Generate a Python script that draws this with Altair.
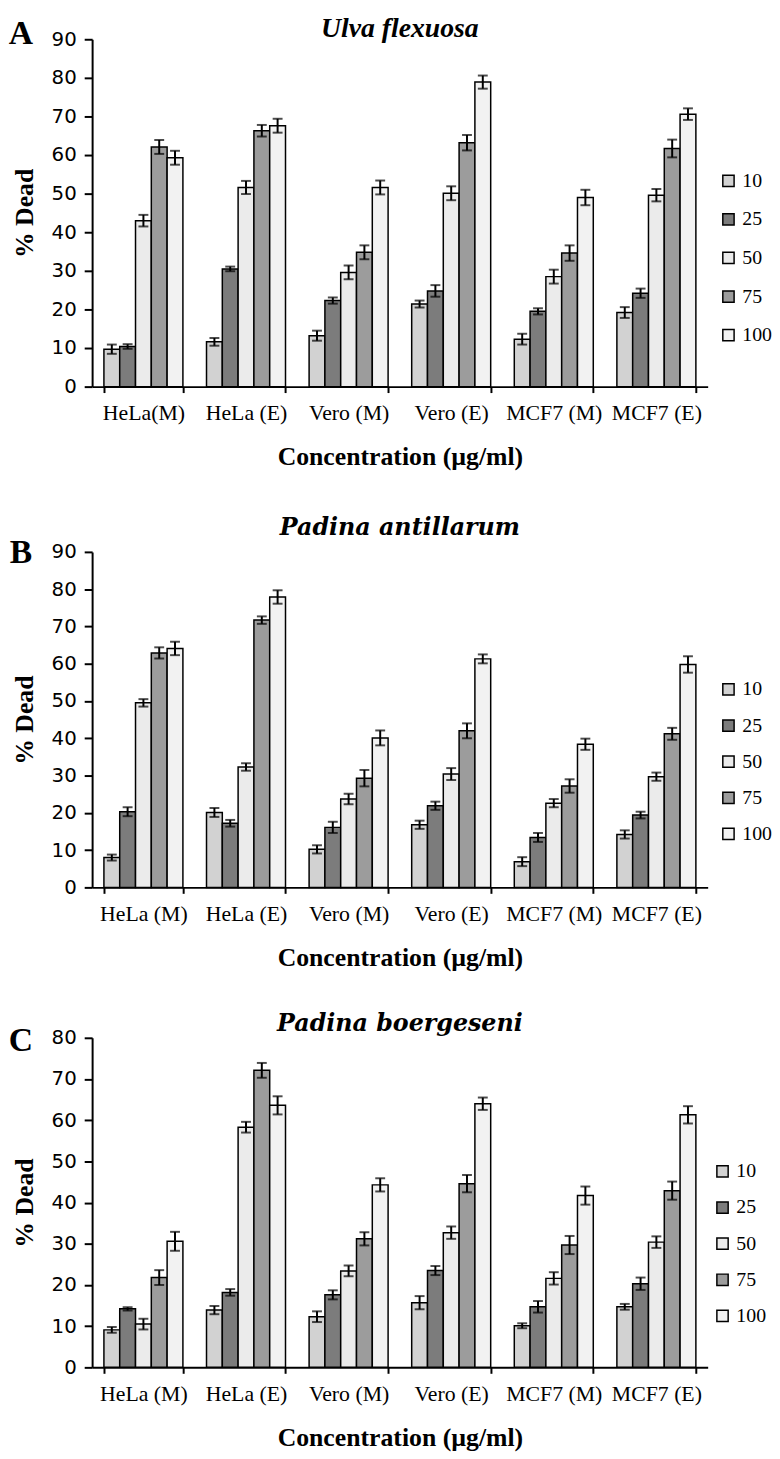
import altair as alt
import pandas as pd

concs = ["10", "25", "50", "75", "100"]

# Panel A: Ulva flexuosa
cats_a = ["HeLa(M)", "HeLa (E)", "Vero (M)", "Vero (E)", "MCF7 (M)", "MCF7 (E)"]
vals_a = {
    "10":  [9.7, 11.6, 13.2, 21.4, 12.3, 19.2],
    "25":  [10.4, 30.5, 22.3, 24.8, 19.5, 24.2],
    "50":  [43.0, 51.6, 29.6, 50.1, 28.5, 49.6],
    "75":  [62.1, 66.3, 34.8, 63.2, 34.6, 61.7],
    "100": [59.3, 67.6, 51.6, 78.9, 49.0, 70.6],
}
errs_a = {
    "10":  [1.2, 1.0, 1.3, 0.9, 1.4, 1.4],
    "25":  [0.6, 0.6, 0.8, 1.5, 0.8, 1.2],
    "50":  [1.5, 1.7, 1.8, 1.8, 1.8, 1.6],
    "75":  [1.8, 1.5, 1.8, 2.0, 2.0, 2.3],
    "100": [1.8, 1.8, 1.8, 1.7, 2.0, 1.5],
}

# Panel B: Padina antillarum
cats_b = ["HeLa (M)", "HeLa (E)", "Vero (M)", "Vero (E)", "MCF7 (M)", "MCF7 (E)"]
vals_b = {
    "10":  [8.0, 20.1, 10.2, 16.8, 6.9, 14.2],
    "25":  [20.3, 17.2, 16.1, 21.9, 13.4, 19.4],
    "50":  [49.5, 32.3, 23.7, 30.4, 22.6, 29.7],
    "75":  [62.9, 71.7, 29.3, 42.0, 27.2, 41.2],
    "100": [64.1, 77.9, 40.1, 61.3, 38.4, 59.8],
}
errs_b = {
    "10":  [0.8, 1.2, 1.1, 1.1, 1.2, 1.1],
    "25":  [1.2, 0.9, 1.5, 1.1, 1.2, 0.9],
    "50":  [1.0, 1.0, 1.4, 1.6, 1.1, 1.1],
    "75":  [1.5, 1.0, 2.2, 2.0, 1.8, 1.6],
    "100": [1.8, 1.8, 2.0, 1.2, 1.5, 2.2],
}

# Panel C: Padina boergeseni
cats_c = ["HeLa (M)", "HeLa (E)", "Vero (M)", "Vero (E)", "MCF7 (M)", "MCF7 (E)"]
vals_c = {
    "10":  [9.1, 13.9, 12.3, 15.7, 10.1, 14.7],
    "25":  [14.2, 18.2, 17.6, 23.5, 14.7, 20.3],
    "50":  [10.5, 58.3, 23.4, 32.7, 21.6, 30.4],
    "75":  [21.8, 72.1, 31.2, 44.6, 29.7, 42.9],
    "100": [30.6, 63.6, 44.3, 64.0, 41.7, 61.3],
}
errs_c = {
    "10":  [0.7, 1.0, 1.3, 1.6, 0.6, 0.7],
    "25":  [0.4, 0.8, 1.1, 1.1, 1.4, 1.5],
    "50":  [1.3, 1.3, 1.3, 1.5, 1.5, 1.4],
    "75":  [1.8, 1.8, 1.6, 2.1, 2.2, 2.2],
    "100": [2.3, 2.2, 1.6, 1.5, 2.2, 2.1],
}

fills = ["#d2d2d2", "#7c7c7c", "#ebebeb", "#9c9c9c", "#f2f2f2"]

SERIF = "Liberation Serif"


def make_df(cats, vals, errs):
    rows = []
    for c in concs:
        for i, cat in enumerate(cats):
            v = vals[c][i]
            e = errs[c][i]
            rows.append({"cat": cat, "conc": c, "val": v, "lo": v - e, "hi": v + e})
    return pd.DataFrame(rows)


def panel(cats, vals, errs, title, title_font, title_size, title_y,
          letter, letter_y, height, ymax, legend_y, row_pad, legend_x):
    df = make_df(cats, vals, errs)
    x = alt.X("cat:N", sort=cats,
              scale=alt.Scale(paddingInner=0.23, paddingOuter=0.115),
              axis=alt.Axis(title="Concentration (µg/ml)", labelAngle=0,
                            tickBand="extent", tickSize=6, labelPadding=10,
                            labelFont=SERIF, labelFontSize=22,
                            titleFont=SERIF, titleFontSize=26, titleFontWeight="bold",
                            titlePadding=21, domainWidth=2, tickWidth=2))
    xo = alt.XOffset("conc:N", sort=concs,
                     scale=alt.Scale(paddingInner=0, paddingOuter=0))
    y_axis = alt.Axis(title="% Dead", values=list(range(0, ymax + 1, 10)),
                      labelOverlap=False, tickSize=8, labelPadding=8,
                      labelFont="DejaVu Sans", labelFontSize=20,
                      titleFont=SERIF, titleFontSize=26,
                      titleFontWeight="bold", titlePadding=14, domainWidth=2,
                      tickWidth=2, grid=False)
    yscale = alt.Scale(domain=[0, ymax], nice=False)
    y = alt.Y("val:Q", scale=yscale, axis=y_axis)

    base = alt.Chart(df)
    bars = base.mark_bar(stroke="black", strokeWidth=1.5).encode(
        x=x, xOffset=xo, y=y,
        fill=alt.Fill("conc:N", sort=concs,
                      scale=alt.Scale(domain=concs, range=fills),
                      legend=alt.Legend(title=None, orient="none", legendX=legend_x,
                                        legendY=legend_y, symbolType="square",
                                        symbolSize=130, symbolStrokeColor="black",
                                        symbolStrokeWidth=1.5, labelFont=SERIF,
                                        labelFontSize=20, rowPadding=row_pad,
                                        labelOffset=4)),
    )
    ylo = alt.Y("lo:Q", scale=yscale, axis=y_axis)
    yhi = alt.Y("hi:Q", scale=yscale, axis=y_axis)
    rule = base.mark_rule(color="black", strokeWidth=2).encode(
        x=x, xOffset=xo, y=ylo, y2="hi:Q")
    cap_lo = base.mark_tick(color="black", thickness=2, size=10, orient="horizontal").encode(
        x=x, xOffset=xo, y=ylo)
    cap_hi = base.mark_tick(color="black", thickness=2, size=10, orient="horizontal").encode(
        x=x, xOffset=xo, y=yhi)
    let = alt.Chart(pd.DataFrame({"t": [letter]})).mark_text(
        font=SERIF, fontSize=34, fontWeight="bold", align="center",
        baseline="alphabetic", color="black").encode(
        text="t:N", x=alt.value(-72), y=alt.value(letter_y))
    ttl = alt.Chart(pd.DataFrame({"t": [title]})).mark_text(
        font=title_font, fontSize=title_size, fontWeight="bold", fontStyle="italic",
        align="center", baseline="middle", color="black").encode(
        text="t:N", x=alt.value(311), y=alt.value(title_y))
    return alt.layer(bars, rule, cap_lo, cap_hi, let, ttl).properties(
        width=622, height=height)


pa = panel(cats_a, vals_a, errs_a, "Ulva flexuosa", SERIF, 28, -10, "A", 5,
           351, 90, 133, 19, 633)
pb = panel(cats_b, vals_b, errs_b, "Padina antillarum", "DejaVu Serif", 24, -24, "B", 11,
           339, 90, 129, 16.5, 633)
pc = panel(cats_c, vals_c, errs_c, "Padina boergeseni", "DejaVu Serif", 24, -14, "C", 13,
           333, 80, 125, 16.5, 627)

inner = alt.vconcat(pb, pc, spacing=42).resolve_legend(fill="independent")
chart = alt.vconcat(pa, inner, spacing=47).resolve_legend(
    fill="independent").properties(padding={"left": 0, "top": 0, "right": 0, "bottom": 0}
).configure_view(stroke=None).configure_axis(
    domainColor="black", tickColor="black", labelColor="black", titleColor="black"
).configure_legend(labelColor="black")

chart.save("out.html", embed_options={"renderer": "svg", "actions": False})
